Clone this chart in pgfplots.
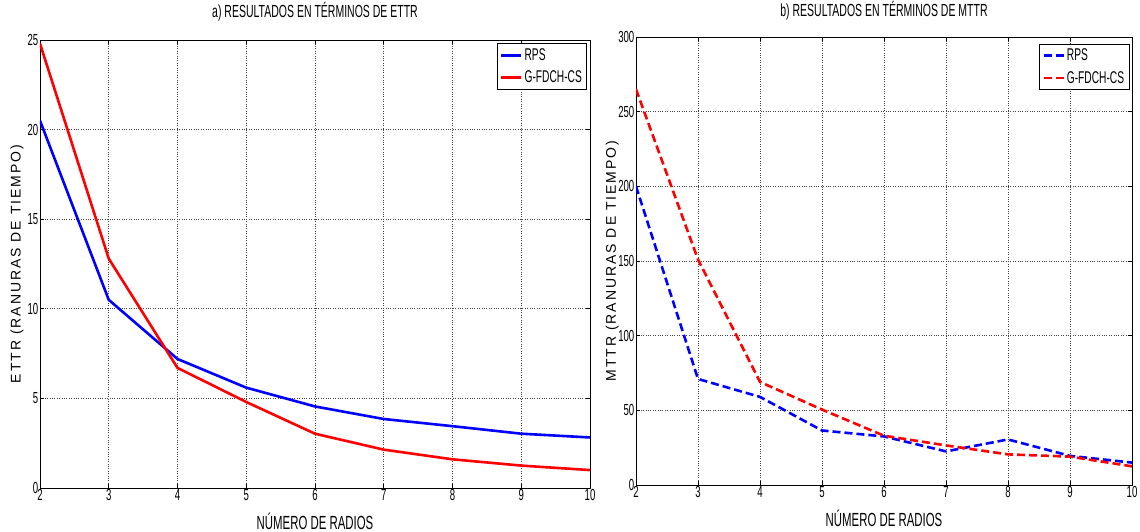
\documentclass[border=0pt]{standalone}
\usepackage{fontspec}
\setmainfont{Liberation Sans}[FakeStretch=0.6]
\newfontfamily\ylfont{Liberation Sans}[LetterSpace=14]
\usepackage{pgfplots}
\pgfplotsset{compat=1.18}

\pgfplotsset{
  matfig/.style={
    scale only axis,
    height=448pt,
    xmin=2, xmax=10,
    xtick={2,...,10},
    ymin=0,
    grid=major,
    major grid style={black!75, dotted, line width=0.6pt},
    axis line style={black, line width=0.8pt},
    tick style={black, line width=0.6pt},
    tick align=inside,
    tick pos=both,
    ticklabel style={font=\fontsize{16}{17}\selectfont, inner sep=1.5pt},
    /pgf/number format/assume math mode=true,
    xlabel style={font=\fontsize{19}{20}\selectfont},
    ylabel style={font=\ylfont\fontsize{14}{15}\selectfont, anchor=center},
    title style={font=\fontsize{17.5}{18}\selectfont, anchor=center},
    legend style={draw=black, line width=0.8pt, fill=white,
      font=\fontsize{17}{18}\selectfont, anchor=north east,
      row sep=5pt, inner sep=3pt},
    legend cell align=left,
    legend image code/.code={\draw[#1] (0pt,0pt) -- (20pt,0pt);},
  },
  rps/.style={blue, line width=2.6pt},
  gfd/.style={red, line width=2.6pt},
}

\begin{document}
\begin{tikzpicture}[x=1pt,y=1pt]
\path[use as bounding box] (0,0) rectangle (1140,532);

% a) ETTR
\begin{axis}[matfig,
  at={(40pt,44pt)}, anchor=south west,
  width=550pt,
  ymax=25, ytick={0,5,...,25},
  title={a) RESULTADOS EN TÉRMINOS DE ETTR},
  title style={at={(axis description cs:0.5,1.049)}},
  xlabel={NÚMERO DE RADIOS},
  xlabel style={at={(axis description cs:0.5,-0.074)}, anchor=center},
  ylabel={ETTR (RANURAS DE TIEMPO)},
  ylabel style={at={(axis description cs:-0.042,0.5)}},
  legend style={at={(rel axis cs:0.995,0.993)}},
]
\addplot[rps] coordinates {
  (2,20.5) (3,10.5) (4,7.2) (5,5.6) (6,4.55) (7,3.85) (8,3.45) (9,3.03) (10,2.82)
};
\addplot[gfd] coordinates {
  (2,24.8) (3,12.8) (4,6.7) (5,4.8) (6,3.03) (7,2.14) (8,1.6) (9,1.25) (10,1.0)
};
\legend{RPS,G-FDCH-CS}
\end{axis}

% b) MTTR
\begin{axis}[matfig,
  at={(636pt,47pt)}, anchor=south west,
  width=496pt,
  ymax=300, ytick={0,50,...,300},
  title={b) RESULTADOS EN TÉRMINOS DE MTTR},
  title style={at={(axis description cs:0.5,1.045)}},
  xlabel={NÚMERO DE RADIOS},
  xlabel style={at={(axis description cs:0.5,-0.074)}, anchor=center},
  ylabel={MTTR (RANURAS DE TIEMPO)},
  ylabel style={at={(axis description cs:-0.048,0.5)}},
  legend style={at={(rel axis cs:0.995,0.985)}},
]
\addplot[rps, dash pattern=on 8pt off 4pt] coordinates {
  (2,200) (3,71) (4,59) (5,36.5) (6,32.5) (7,22.5) (8,30.5) (9,19.5) (10,15)
};
\addplot[gfd, dash pattern=on 8pt off 4pt] coordinates {
  (2,265) (3,151) (4,69) (5,50.5) (6,33) (7,26.5) (8,20.5) (9,19) (10,12.5)
};
\legend{RPS,G-FDCH-CS}
\end{axis}
\end{tikzpicture}
\end{document}
